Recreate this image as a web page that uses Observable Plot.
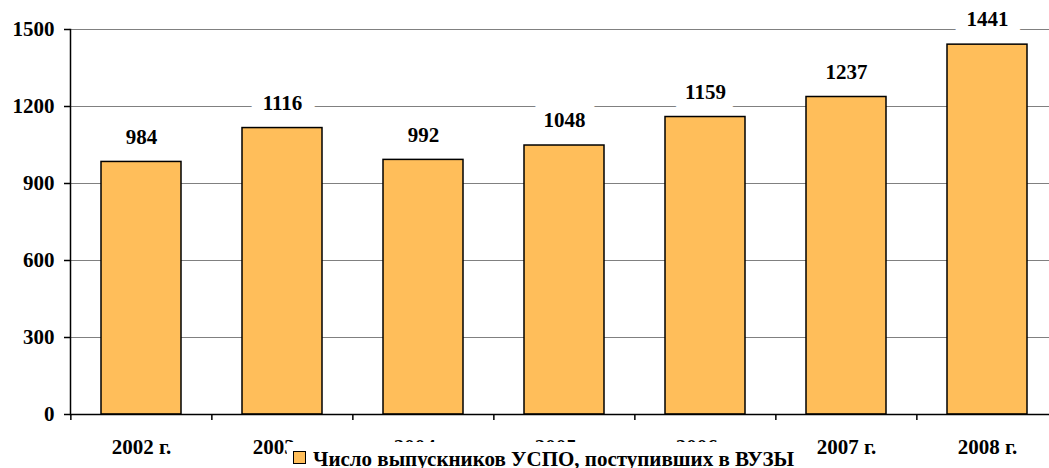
<!DOCTYPE html>
<html>
<head>
<meta charset="utf-8">
<script src="https://cdn.jsdelivr.net/npm/d3@7"></script>
<script src="https://cdn.jsdelivr.net/npm/@observablehq/plot@0.6"></script>
<style>
  html, body { margin: 0; padding: 0; background: white; }
  #wrap { position: relative; width: 1049px; height: 468px; overflow: hidden; font-family: "Liberation Serif", "Times New Roman", serif; font-weight: bold; }
  #legend { position: absolute; left: 287px; top: 442px; width: 518px; height: 30px; background: white; }
  #legend .sw { position: absolute; left: 6px; top: 9px; width: 11px; height: 11px; background: #FFBE5A; border: 1.5px solid black; }
  #legend .tx { position: absolute; left: 26px; top: 7px; font-size: 21px; line-height: 21px; white-space: nowrap; color: black; }
</style>
</head>
<body>
<div id="wrap"></div>
<script>
const years = ["2002 г.", "2003 г.", "2004 г.", "2005 г.", "2006 г.", "2007 г.", "2008 г."];
const values = [984, 1116, 992, 1048, 1159, 1237, 1441];
const yTicks = [0, 300, 600, 900, 1200, 1500];
const seriesName = "Число выпускников УСПО, поступивших в ВУЗЫ";

const data = years.map((year, i) => ({year, value: values[i]}));

const W = 1049, H = 468;
const mL = 70, mR = -10, mT = 29, mB = 54;
const step = (W - mR - mL) / years.length;

const chart = Plot.plot({
  width: W,
  height: H,
  marginLeft: mL,
  marginRight: mR,
  marginTop: mT,
  marginBottom: mB,
  style: {fontFamily: "'Liberation Serif', 'Times New Roman', serif", fontWeight: "bold", fontSize: "21px", color: "black", background: "white"},
  x: {type: "band", domain: years, paddingInner: 0.43, paddingOuter: 0.215, label: null},
  y: {domain: [0, 1500], label: null},
  marks: [
    Plot.gridY(yTicks.slice(1), {stroke: "#808080", strokeOpacity: 1, strokeWidth: 1.2}),
    Plot.text(data, {x: "year", y: "value", text: d => String(d.value), dy: -25, fill: "black", stroke: "white", strokeWidth: 26, fontSize: 21, fontWeight: "bold"}),
    Plot.barY(data, {x: "year", y: "value", fill: "#FFBE5A", stroke: "black", strokeWidth: 1.5}),
    Plot.ruleY([0], {stroke: "black", strokeWidth: 1.5}),
    Plot.frame({anchor: "left", stroke: "black", strokeWidth: 1.5}),
    Plot.axisY(yTicks, {tickSize: 6, tickPadding: 10, tickFormat: d => String(d), fontSize: 21, fontWeight: "bold", strokeWidth: 1.5, label: null}),
    Plot.axisX({tickSize: 6, tickFormat: () => "", dx: -step / 2, strokeWidth: 1.5, label: null}),
    Plot.axisX({tickSize: 0, tickPadding: 25, fontSize: 21, fontWeight: "bold", label: null})
  ]
});

const wrap = document.getElementById("wrap");
wrap.appendChild(chart);
const legend = document.createElement("div");
legend.id = "legend";
legend.innerHTML = '<div class="sw"></div><div class="tx"></div>';
legend.querySelector(".tx").textContent = seriesName;
wrap.appendChild(legend);
</script>
</body>
</html>
